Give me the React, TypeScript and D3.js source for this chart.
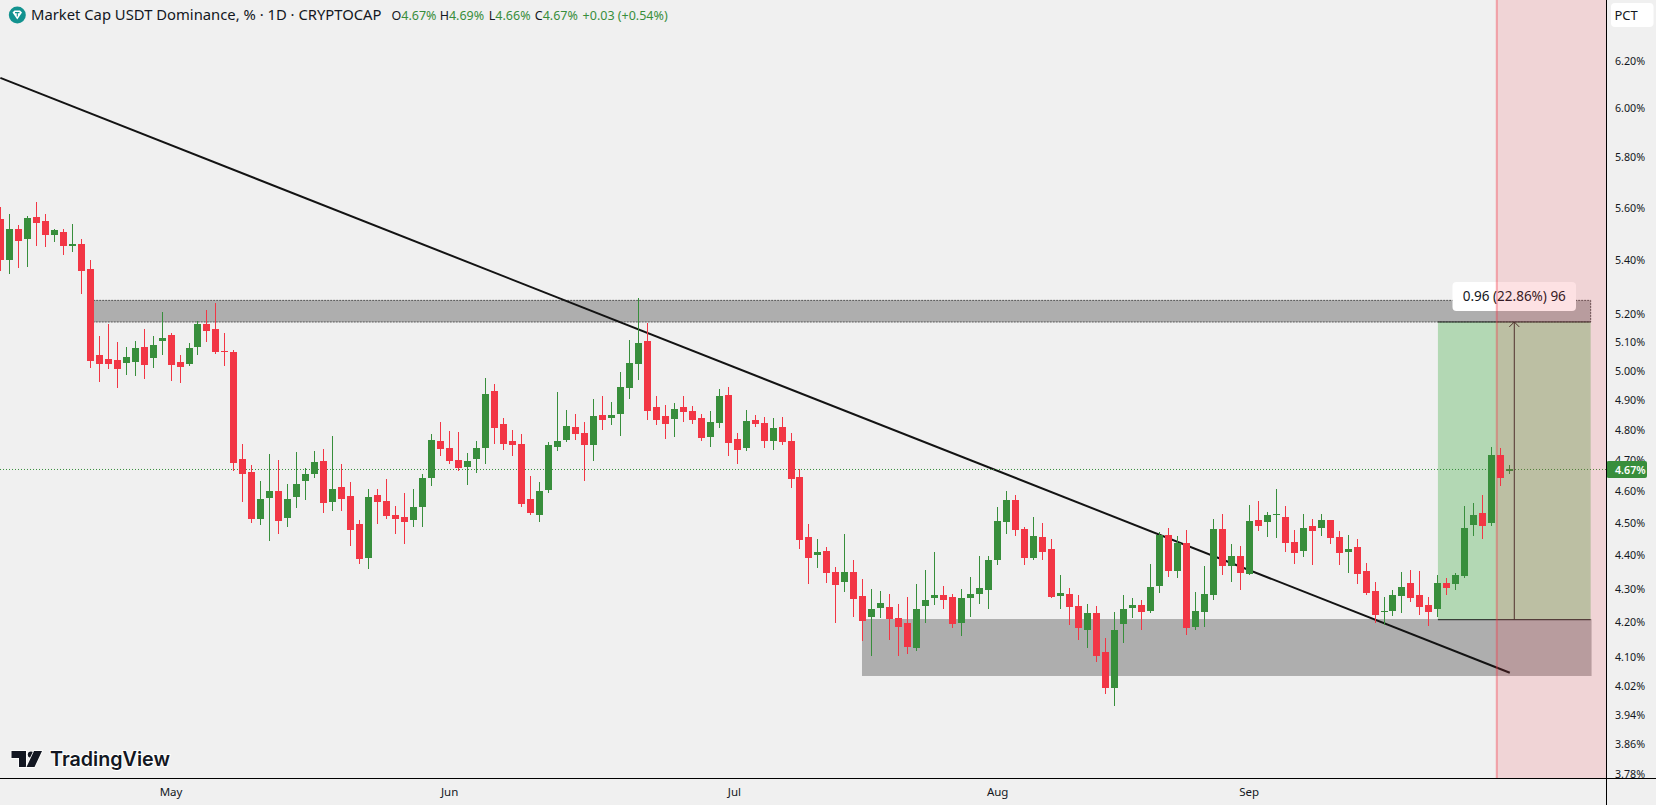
import React from 'react';
import * as d3 from 'd3';

// daily candles
const opens = [5.556,5.400,5.517,5.479,5.564,5.548,5.494,5.506,5.453,5.460,5.367,5.056,5.042,5.039,5.028,5.032,5.084,5.046,5.105,5.127,5.032,5.025,5.084,5.166,5.148,5.070,5.067,4.704,4.662,4.513,4.579,4.601,4.516,4.582,4.633,4.656,4.698,4.566,4.614,4.585,4.497,4.392,4.588,4.569,4.525,4.519,4.510,4.550,4.643,4.764,4.741,4.701,4.678,4.704,4.741,4.931,4.820,4.764,4.754,4.576,4.525,4.604,4.744,4.767,4.810,4.790,4.750,4.850,4.840,4.854,4.942,5.025,5.105,4.877,4.847,4.837,4.877,4.864,4.840,4.777,4.823,4.918,4.770,4.741,4.833,4.823,4.764,4.810,4.764,4.646,4.457,4.402,4.414,4.350,4.320,4.350,4.278,4.216,4.243,4.246,4.213,4.199,4.127,4.249,4.272,4.281,4.275,4.199,4.272,4.284,4.296,4.386,4.503,4.572,4.482,4.392,4.457,4.420,4.278,4.284,4.249,4.179,4.228,4.115,4.014,4.196,4.243,4.251,4.234,4.308,4.463,4.353,4.439,4.187,4.231,4.281,4.482,4.368,4.398,4.344,4.510,4.503,4.525,4.519,4.442,4.414,4.491,4.485,4.510,4.457,4.411,4.426,4.353,4.293,4.231,4.234,4.278,4.317,4.281,4.251,4.240,4.317,4.314,4.338,4.494,4.532,4.500,4.718,4.665];
const highs = [5.602,5.575,5.533,5.567,5.621,5.575,5.517,5.517,5.537,5.479,5.400,5.123,5.166,5.102,5.084,5.105,5.148,5.123,5.209,5.134,5.056,5.098,5.177,5.216,5.242,5.134,5.074,4.754,4.685,4.633,4.721,4.701,4.624,4.728,4.675,4.731,4.737,4.780,4.688,4.630,4.510,4.607,4.607,4.640,4.554,4.595,4.607,4.656,4.787,4.827,4.796,4.793,4.724,4.764,4.976,4.955,4.840,4.800,4.787,4.650,4.630,4.760,4.928,4.867,4.854,4.827,4.904,4.914,4.894,4.996,5.109,5.260,5.170,4.914,4.884,4.891,4.914,4.880,4.854,4.864,4.938,4.945,4.790,4.867,4.850,4.844,4.840,4.844,4.790,4.672,4.497,4.451,4.426,4.365,4.466,4.386,4.329,4.299,4.293,4.284,4.254,4.275,4.314,4.356,4.411,4.308,4.284,4.299,4.335,4.398,4.398,4.550,4.601,4.588,4.488,4.519,4.500,4.451,4.341,4.302,4.281,4.254,4.249,4.155,4.231,4.281,4.272,4.266,4.374,4.473,4.485,4.460,4.479,4.290,4.368,4.513,4.528,4.436,4.429,4.557,4.569,4.535,4.607,4.554,4.479,4.528,4.513,4.528,4.510,4.476,4.463,4.451,4.377,4.320,4.275,4.296,4.350,4.356,4.353,4.275,4.341,4.332,4.347,4.554,4.563,4.588,4.744,4.741,4.685];
const lows = [5.359,5.348,5.370,5.374,5.453,5.449,5.468,5.419,5.430,5.274,5.011,4.962,5.007,4.942,4.986,4.983,4.972,5.011,5.056,4.966,4.959,5.018,5.056,5.102,5.060,5.018,4.666,4.566,4.500,4.494,4.445,4.466,4.488,4.547,4.572,4.643,4.532,4.538,4.538,4.429,4.374,4.359,4.497,4.513,4.466,4.436,4.488,4.488,4.617,4.714,4.688,4.666,4.620,4.659,4.688,4.754,4.734,4.714,4.550,4.525,4.503,4.595,4.731,4.760,4.767,4.633,4.698,4.800,4.817,4.780,4.904,4.969,4.833,4.817,4.770,4.777,4.827,4.820,4.764,4.744,4.806,4.714,4.688,4.731,4.810,4.741,4.734,4.750,4.611,4.420,4.314,4.362,4.317,4.199,4.290,4.216,4.147,4.103,4.213,4.150,4.103,4.109,4.118,4.199,4.251,4.240,4.184,4.161,4.216,4.254,4.240,4.371,4.466,4.460,4.371,4.386,4.386,4.272,4.240,4.193,4.150,4.127,4.087,3.997,3.963,4.141,4.213,4.179,4.228,4.287,4.335,4.332,4.164,4.179,4.187,4.266,4.341,4.320,4.296,4.341,4.476,4.457,4.454,4.411,4.374,4.395,4.371,4.460,4.436,4.371,4.347,4.314,4.281,4.199,4.193,4.219,4.228,4.260,4.222,4.190,4.216,4.281,4.296,4.332,4.460,4.451,4.491,4.617,4.656];
const closes = [5.400,5.517,5.472,5.560,5.540,5.494,5.513,5.453,5.460,5.359,5.035,5.025,5.025,5.007,5.049,5.081,5.021,5.091,5.116,5.021,5.014,5.081,5.166,5.141,5.067,5.067,4.691,4.656,4.513,4.576,4.601,4.506,4.576,4.624,4.656,4.694,4.563,4.607,4.576,4.479,4.389,4.582,4.566,4.522,4.513,4.503,4.550,4.643,4.767,4.737,4.698,4.675,4.698,4.741,4.921,4.806,4.754,4.750,4.560,4.532,4.601,4.750,4.764,4.813,4.787,4.750,4.847,4.833,4.850,4.945,5.028,5.098,4.864,4.833,4.820,4.870,4.860,4.833,4.773,4.827,4.914,4.757,4.734,4.830,4.820,4.764,4.806,4.760,4.640,4.448,4.392,4.411,4.347,4.311,4.350,4.269,4.204,4.240,4.257,4.210,4.187,4.129,4.240,4.266,4.281,4.266,4.196,4.272,4.284,4.302,4.386,4.506,4.572,4.479,4.392,4.460,4.411,4.275,4.287,4.246,4.184,4.228,4.103,4.014,4.179,4.240,4.251,4.231,4.305,4.463,4.353,4.439,4.184,4.234,4.284,4.482,4.368,4.398,4.347,4.506,4.491,4.525,4.528,4.439,4.408,4.485,4.476,4.510,4.454,4.408,4.420,4.344,4.287,4.222,4.234,4.281,4.305,4.272,4.246,4.231,4.317,4.302,4.341,4.485,4.525,4.491,4.718,4.643,4.672];

const priceTicks = [6.2,6.0,5.8,5.6,5.4,5.2,5.1,5.0,4.9,4.8,4.7,4.6,4.5,4.4,4.3,4.2,4.1,4.02,3.94,3.86,3.78];
const monthLabels = ['May','Jun','Jul','Aug','Sep'];
const monthBars = [19,50,81.7,111,139];

const lastPrice = 4.67;
const trendBars = [0,168];
const trendPrices = [6.127,4.056];
const upperZone = [5.251,5.173];
const lowerZone = [4.21,4.047];
const measurePrices = [5.173,4.208];
const zoneBarsUpper = [10,177];
const zoneBarsLower = [95.9,177.1];
const measureBars = [160,177];
const measureArrowBar = 168.5;
const eventBar = 166.55;

const legendLabels = ['O','H','L','C'];
const legendValues = ['4.67%','4.69%','4.66%','4.67%'];
const legendX = [391.5,439.7,488.8,534.8];

const W = 1656;
const H = 805;
const plotRight = 1606.5;
const plotBottom = 778.5;

const UP = '#388e3c';
const DOWN = '#f23645';
const INK = '#131722';
const FONT = '"Noto Sans", sans-serif';

const x = d3.scaleLinear().domain([0,168]).range([0.33,1509.8]);
const y = d3.scaleLog().domain([3.78,6.2]).range([774.4,60.8]);

export default function App() {
	const trend = d3.line<number>()
		.x(b => x(b))
		.y((b, i) => y(trendPrices[i]))(trendBars);

	const arrowTop = y(measurePrices[0]);
	const arrowX = x(measureArrowBar);

	return (
		<svg width={W} height={H} style={{ position: 'fixed', left: 0, top: 0, display: 'block', background: '#f0f0f0' }}>
			<defs>
				<clipPath id="axisClip"><rect x={plotRight} y={0} width={W - plotRight} height={plotBottom} /></clipPath>
				<clipPath id="plotClip"><rect x={0} y={0} width={plotRight} height={plotBottom} /></clipPath>
			</defs>

			<g clipPath="url(#plotClip)">
				{/* zones */}
				<rect x={x(zoneBarsUpper[0])} y={y(upperZone[0])} width={x(zoneBarsUpper[1]) - x(zoneBarsUpper[0])}
					height={y(upperZone[1]) - y(upperZone[0])} fill="#aeaeae" stroke="#555" strokeDasharray="2 1" />
				<rect x={x(zoneBarsLower[0])} y={y(lowerZone[0])} width={x(zoneBarsLower[1]) - x(zoneBarsLower[0])}
					height={y(lowerZone[1]) - y(lowerZone[0])} fill="#aeaeae" />

				{/* measure box */}
				<rect x={x(measureBars[0])} y={y(measurePrices[0])} width={x(measureBars[1]) - x(measureBars[0])}
					height={y(measurePrices[1]) - y(measurePrices[0])} fill="rgb(76,175,80)" fillOpacity={0.37} />
				<path d={`M${x(measureBars[0])},${y(measurePrices[0])}H${x(measureBars[1])}M${x(measureBars[0])},${y(measurePrices[1])}H${x(measureBars[1])}`}
					stroke="#222" fill="none" />
				<path d={`M${arrowX},${y(measurePrices[1])}V${arrowTop}M${arrowX - 5},${arrowTop + 5}L${arrowX},${arrowTop}L${arrowX + 5},${arrowTop + 5}`}
					stroke="#33302a" fill="none" />

				<path d={trend ?? ''} stroke="#131313" strokeWidth={2} fill="none" />

				{/* last price */}
				<line x1={0} x2={plotRight} y1={y(lastPrice)} y2={y(lastPrice)} stroke={UP} strokeDasharray="1 2" />

				{/* candles */}
				<g shapeRendering="crispEdges">
					{opens.map((o, i) => {
						const c = closes[i];
						const cx = Math.floor(x(i));
						const color = c >= o ? UP : DOWN;
						const top = y(Math.max(o, c));
						const bottom = y(Math.min(o, c));
						return (
							<g key={i} fill={color}>
								<rect x={cx} y={y(highs[i])} width={1} height={y(lows[i]) - y(highs[i])} />
								<rect x={cx - 3} y={top} width={7} height={Math.max(1, bottom - top)} />
							</g>
						);
					})}
				</g>

				{/* measure label */}
				<rect x={1452.5} y={282} width={123.5} height={29} rx={4} fill="#fff" />
				<text x={arrowX} y={301} textAnchor="middle" fontFamily={FONT} fontSize={13.5} fill={INK}>0.96 (22.86%) 96</text>

				{/* event band on top of everything */}
				<rect x={x(eventBar)} y={0} width={plotRight - x(eventBar)} height={plotBottom} fill={DOWN} fillOpacity={0.15} />
				<line x1={x(eventBar)} x2={x(eventBar)} y1={0} y2={plotBottom} stroke={DOWN} strokeOpacity={0.4} strokeWidth={2} />
			</g>

			{/* logo */}
			<g transform="translate(11.5,751)" fill="#131722" stroke="#fff" strokeWidth={1.5} style={{ paintOrder: 'stroke' }}>
				<path d="M0,0H14.5V16H7.5V7H0Z" />
				<circle cx={19.5} cy={3.6} r={3.2} />
				<path d="M22.5,0H30.5L23,16H15Z" />
			</g>
			<text x={50} y={766} fontFamily="Inter, sans-serif" fontWeight={600} fontSize={19.7} fill="#131722"
				stroke="#fff" strokeWidth={2} style={{ paintOrder: 'stroke' }}>TradingView</text>

			{/* header */}
			<circle cx={17.3} cy={15} r={8.5} fill="#12928f" />
			<path d="M12.5,12.5L14.5,10.5H20L22,12.5L17.3,19.5Z" fill="#fff" />
			<path d="M15,12.6H19.5M17.3,12.6V16.5" stroke="#12928f" strokeWidth={1.1} fill="none" />
			<text x={31} y={20} fontFamily={FONT} fontSize={14.8} fill={INK}>Market Cap USDT Dominance, % · 1D · CRYPTOCAP</text>
			{legendLabels.map((l, i) => (
				<text key={l} x={legendX[i]} y={20} fontFamily={FONT} fontSize={12.5} fill={INK}>
					{l}<tspan fill={UP}>{legendValues[i]}</tspan>
				</text>
			))}
			<text x={582.6} y={20} fontFamily={FONT} fontSize={12.5} fill={UP}>+0.03 (+0.54%)</text>

			{/* price axis */}
			<g clipPath="url(#axisClip)" fontFamily={FONT} fontSize={10.7} fill={INK}>
				{priceTicks.map(p => (
					<text key={p} x={1615} y={y(p) + 4}>{p.toFixed(2)}%</text>
				))}
			</g>
			<rect x={plotRight} y={461} width={40.5} height={17} rx={2} fill={UP} />
			<text x={1615} y={474} fontFamily={FONT} fontSize={10.7} fontWeight={600} fill="#fff">4.67%</text>
			<rect x={1611} y={3} width={42.5} height={24} rx={4} fill="#fff" />
			<text x={1614.5} y={19.5} fontFamily={FONT} fontSize={13} fill={INK}>PCT</text>

			{/* time axis */}
			{monthLabels.map((m, i) => (
				<text key={m} x={x(monthBars[i])} y={796} textAnchor="middle" fontFamily={FONT} fontSize={11.5} fill={INK}>{m}</text>
			))}

			<line x1={0} x2={W} y1={plotBottom} y2={plotBottom} stroke="#000" />
			<line x1={plotRight} x2={plotRight} y1={0} y2={H} stroke="#000" />
		</svg>
	);
}
